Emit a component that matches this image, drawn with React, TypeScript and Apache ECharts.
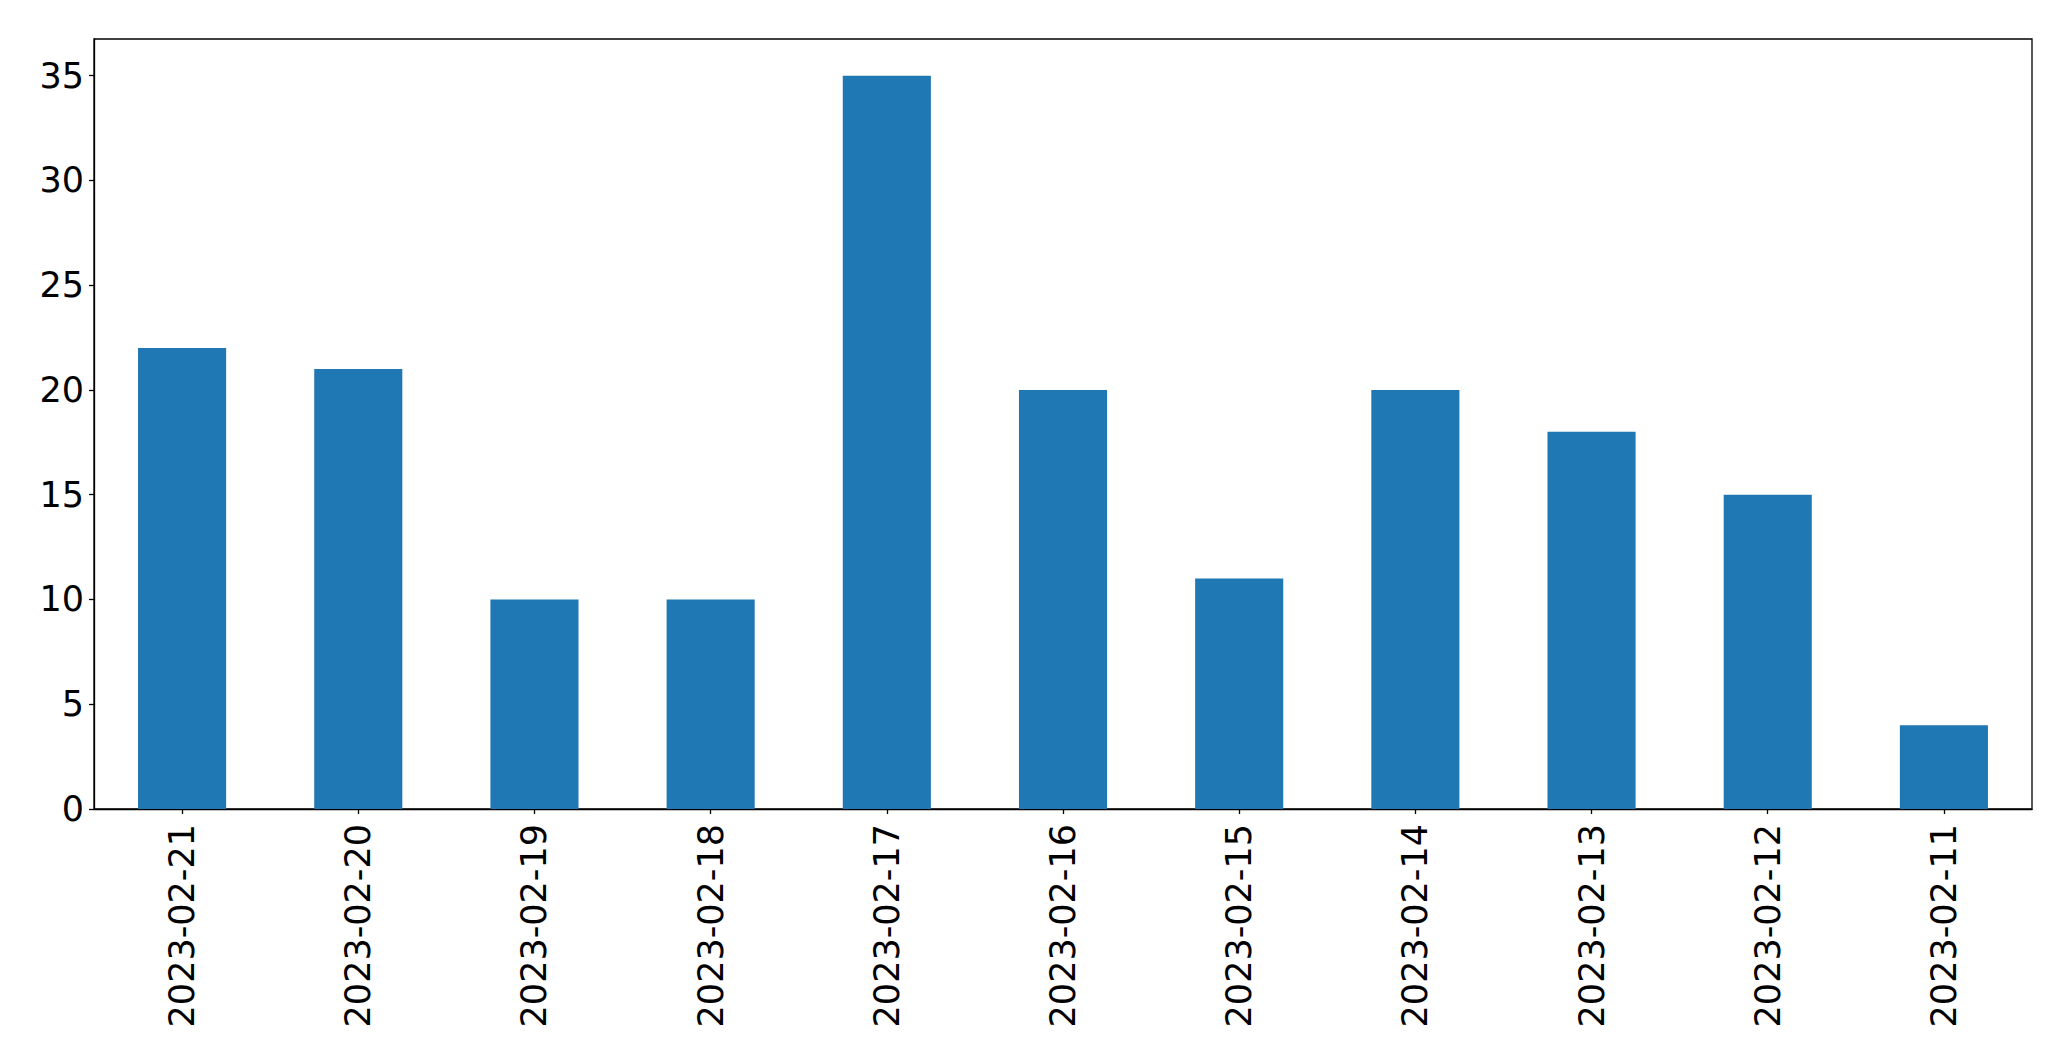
import React, { useEffect, useRef } from "react";
import * as echarts from "echarts";

const categories = [
  "2023-02-21", "2023-02-20", "2023-02-19", "2023-02-18", "2023-02-17", "2023-02-16",
  "2023-02-15", "2023-02-14", "2023-02-13", "2023-02-12", "2023-02-11",
];
const values = [22, 21, 10, 10, 35, 20, 11, 20, 18, 15, 4];
const yTicks = [0, 5, 10, 15, 20, 25, 30, 35];

export default function App() {
  const ref = useRef<HTMLDivElement>(null);
  useEffect(() => {
    if (!ref.current) return;
    const chart = echarts.init(ref.current, null, { renderer: "svg" });
    chart.setOption({
      animation: false,
      backgroundColor: "#ffffff",
      grid: {
        left: 94,
        right: 39,
        top: 39,
        bottom: 252,
        show: true,
        borderColor: "#000000",
        borderWidth: 1.3,
        containLabel: false,
      },
      xAxis: {
        type: "category",
        data: categories,
        boundaryGap: true,
        axisLine: { show: true, lineStyle: { color: "#000", width: 1.3 } },
        axisTick: { show: true, alignWithLabel: true, length: 5, lineStyle: { color: "#000", width: 1.3 } },
        axisLabel: {
          rotate: 90,
          margin: 15,
          fontSize: 35,
          color: "#000",
          fontFamily: "DejaVu Sans",
          interval: 0,
        },
        splitLine: { show: false },
      },
      yAxis: {
        type: "value",
        min: 0,
        max: 36.75,
        interval: 5,
        axisLine: { show: true, lineStyle: { color: "#000", width: 1.3 } },
        axisTick: { show: true, length: 5, lineStyle: { color: "#000", width: 1.3 } },
        axisLabel: {
          margin: 10,
          fontSize: 35,
          color: "#000",
          fontFamily: "DejaVu Sans",
          showMaxLabel: false,
          formatter: (v: number) => (yTicks.includes(v) ? String(v) : ""),
        },
        splitLine: { show: false },
      },
      series: [
        {
          type: "bar",
          data: values,
          barWidth: "50%",
          itemStyle: { color: "#1f77b4" },
        },
      ],
    });
    return () => chart.dispose();
  }, []);
  return <div ref={ref} style={{ width: 2071, height: 1061, position: "absolute", left: 0, top: 0 }} />;
}
